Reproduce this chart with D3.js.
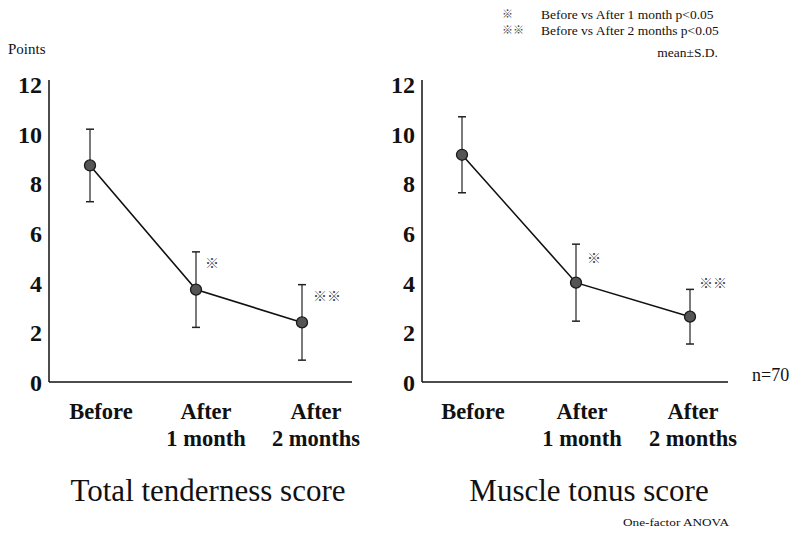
<!DOCTYPE html>
<html>
<head>
<meta charset="utf-8">
<script src="https://cdn.jsdelivr.net/npm/d3@7/dist/d3.min.js"></script>
<style>
  html, body { margin: 0; padding: 0; background: #fff; }
  svg { display: block; }
  text { font-family: "Liberation Serif", "Times New Roman", serif; fill: #111; }
  .cjk { font-family: "Noto Sans CJK JP", "Noto Sans CJK SC", sans-serif; fill: #444; }
</style>
</head>
<body>
<svg id="chart" width="791" height="535"></svg>
<script>
// ---- data ----
const categories = ["Before", "After 1 month", "After 2 months"];
const categoryLines = [["Before"], ["After", "1 month"], ["After", "2 months"]];
const tendernessMean = [8.72, 3.72, 2.4];
const tendernessSD = [1.46, 1.52, 1.52];
const tonusMean = [9.15, 4.0, 2.63];
const tonusSD = [1.53, 1.55, 1.1];
const significance = ["", "※", "※※"];
const yTicks = [0, 2, 4, 6, 8, 10, 12];
const panelTitles = ["Total tenderness score", "Muscle tonus score"];
const legendMarks = ["※", "※※"];
const legendTexts = ["Before vs After 1 month  p<0.05", "Before vs After 2 months p<0.05"];

// ---- layout ----
const svg = d3.select("#chart");
const y = d3.scaleLinear().domain([0, 12]).range([382, 84]);

const panels = [
  { title: panelTitles[0], mean: tendernessMean, sd: tendernessSD,
    axisX: 49, endX: 352, pts: [90, 302], labelDx: [11, 10, 14], titleX: 208,
    sigOff: [[0,0],[16,-27],[25,-26]] },
  { title: panelTitles[1], mean: tonusMean, sd: tonusSD,
    axisX: 422, endX: 728, pts: [462, 690], labelDx: [11, 6, 3], titleX: 589,
    sigOff: [[0,0],[18,-25],[23,-34]] }
];

panels.forEach(p => {
  const x = d3.scalePoint().domain(categories).range(p.pts);
  const g = svg.append("g");

  const ax = g.append("g")
    .attr("transform", `translate(${p.axisX},0)`)
    .call(d3.axisLeft(y).tickValues(yTicks).tickSize(0).tickPadding(7).tickFormat(d3.format("d")));
  ax.select(".domain").remove();
  ax.selectAll("text")
    .attr("font-size", 24)
    .attr("font-weight", "bold")
    .attr("fill", "#111")
    .attr("dy", "0.36em");

  g.append("line")
    .attr("x1", p.axisX).attr("x2", p.axisX)
    .attr("y1", y(12) - 4).attr("y2", y(0))
    .attr("stroke", "#111").attr("stroke-width", 1.5);
  g.append("line")
    .attr("x1", p.axisX).attr("x2", p.endX)
    .attr("y1", y(0)).attr("y2", y(0))
    .attr("stroke", "#111").attr("stroke-width", 1.5);

  const data = categories.map((c, i) => ({ c, i, m: p.mean[i], s: p.sd[i] }));

  const eb = g.selectAll(".eb").data(data).enter().append("g");
  eb.append("line")
    .attr("x1", d => x(d.c)).attr("x2", d => x(d.c))
    .attr("y1", d => y(d.m + d.s)).attr("y2", d => y(d.m - d.s))
    .attr("stroke", "#222").attr("stroke-width", 1.2);
  [1, -1].forEach(sign => {
    eb.append("line")
      .attr("x1", d => x(d.c) - 4).attr("x2", d => x(d.c) + 4)
      .attr("y1", d => y(d.m + sign * d.s)).attr("y2", d => y(d.m + sign * d.s))
      .attr("stroke", "#222").attr("stroke-width", 1.5);
  });

  g.append("path")
    .datum(data)
    .attr("d", d3.line().x(d => x(d.c)).y(d => y(d.m)))
    .attr("fill", "none").attr("stroke", "#111").attr("stroke-width", 1.6);

  g.selectAll(".pt").data(data).enter().append("circle")
    .attr("cx", d => x(d.c)).attr("cy", d => y(d.m)).attr("r", 5.5)
    .attr("fill", "#555").attr("stroke", "#1a1a1a").attr("stroke-width", 1.3);

  g.selectAll(".sig").data(data.filter(d => significance[d.i])).enter().append("text")
    .attr("class", "cjk")
    .attr("x", d => x(d.c) + p.sigOff[d.i][0])
    .attr("y", d => y(d.m) + p.sigOff[d.i][1])
    .attr("dy", "0.35em")
    .attr("text-anchor", "middle")
    .attr("font-size", 14)
    .text(d => significance[d.i]);

  categoryLines.forEach((lines, i) => {
    lines.forEach((ln, j) => {
      g.append("text")
        .attr("x", x(categories[i]) + p.labelDx[i])
        .attr("y", 419 + j * 27)
        .attr("text-anchor", "middle")
        .attr("font-size", 22.5)
        .attr("font-weight", "bold")
        .text(ln);
    });
  });

  g.append("text")
    .attr("x", p.titleX).attr("y", 501)
    .attr("text-anchor", "middle")
    .attr("font-size", 31)
    .text(p.title);
});

svg.append("text").attr("x", 8).attr("y", 54).attr("font-size", 15).text("Points");

legendMarks.forEach((m, i) => {
  svg.append("text").attr("class", "cjk").attr("x", 502).attr("y", 18 + i * 16)
    .attr("font-size", 11).text(m);
  svg.append("text").attr("x", 541).attr("y", 19 + i * 16)
    .attr("font-size", 13.5).text(legendTexts[i]);
});
svg.append("text").attr("x", 718).attr("y", 57).attr("text-anchor", "end")
  .attr("font-size", 13.5).text("mean\u00B1S.D.");

svg.append("text").attr("x", 752).attr("y", 381).attr("font-size", 18).text("n=70");

svg.append("text").attr("x", 623).attr("y", 526).attr("font-size", 10)
  .attr("textLength", 106).attr("lengthAdjust", "spacingAndGlyphs").text("One-factor ANOVA");
</script>
</body>
</html>
